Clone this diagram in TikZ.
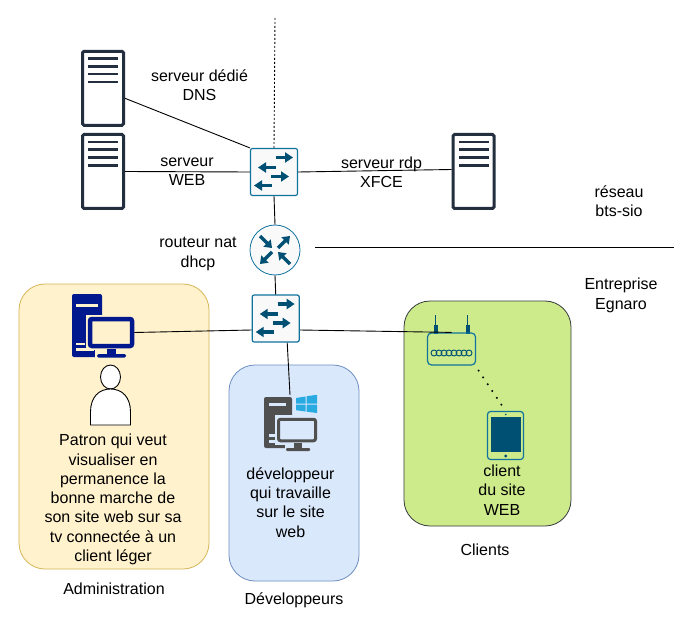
\documentclass[tikz,border=0pt]{standalone}
\usepackage{fontspec}
\setmainfont{Liberation Sans}
\usetikzlibrary{arrows.meta,shapes.geometric}
\definecolor{srvcol}{HTML}{232F3E}
\definecolor{netcol}{HTML}{005073}
\definecolor{netedge}{HTML}{10739E}
\definecolor{netfill}{HTML}{F9F9F9}
\definecolor{yelfill}{HTML}{FFF2CC}
\definecolor{yeledge}{HTML}{D6B656}
\definecolor{blufill}{HTML}{DAE8FC}
\definecolor{bluedge}{HTML}{6C8EBF}
\definecolor{grnfill}{HTML}{CDEB8B}
\definecolor{grnedge}{HTML}{36393D}
\definecolor{admcol}{HTML}{00188D}
\definecolor{devcol}{HTML}{505050}
\definecolor{wincol}{HTML}{29ABE2}
\tikzset{
  x=1pt,y=-1pt,
  lbl/.style={align=center,inner sep=0pt,font=\fontsize{16}{19.3}\selectfont,text=black},
  zone/.style={rounded corners=26pt,line width=0.8pt,inner sep=0pt},
  serverbox/.style={draw=srvcol,line width=3pt,rounded corners=1.5pt,fill=white,minimum width=41pt,minimum height=74pt,inner sep=0pt},
  switchbox/.style={draw=netedge,line width=1.2pt,rounded corners=2pt,fill=netfill,minimum width=47pt,minimum height=47pt,inner sep=0pt},
  routerbox/.style={circle,draw=netedge,line width=0.8pt,fill=netfill,minimum size=50pt,inner sep=0pt},
  netarrow/.style={netcol,line width=3.4pt,-{Triangle[length=8pt,width=10pt]}},
  link/.style={draw=black,line width=0.9pt},
  serverbars/.pic={
    \foreach \yy in {9,16.7,24.3,32.3}
      \fill[srvcol] (-15,\yy-38.5-1.3) rectangle (15,\yy-38.5+1.3);
  },
  switcharrows/.pic={
    \draw[netarrow] (2,-14.5) -- (19,-14.5);
    \draw[netarrow] (2,-4.5) -- (-16,-4.5);
    \draw[netarrow] (-3,4.5) -- (15,4.5);
    \draw[netarrow] (-2,13.5) -- (-20,13.5);
  }
}
\begin{document}
\begin{tikzpicture}
\useasboundingbox (0,0) rectangle (690,620);
\fill[white] (0,0) rectangle (690,620);

% zones
\draw[zone,fill=yelfill,draw=yeledge] (19,284) rectangle (209,569);
\draw[zone,fill=blufill,draw=bluedge] (229,365) rectangle (359,581);
\draw[zone,fill=grnfill,draw=grnedge] (404,301) rectangle (571,526);

% network devices
\node[serverbox] (srvdns) at (103,88.3) {};
\pic at (srvdns) {serverbars};
\node[serverbox] (srvweb) at (103,171.5) {};
\pic at (srvweb) {serverbars};
\node[serverbox] (srvrdp) at (473.5,171.5) {};
\pic at (srvrdp) {serverbars};

\node[switchbox] (sw1) at (274,172) {};
\node[routerbox] (rtr) at (275,250) {};
\node[switchbox] (sw2) at (275.7,318.5) {};

\coordinate (topend) at (275,18);
\coordinate (sepa) at (315,247);
\coordinate (sepb) at (674,247);

% admin computer
\fill[admcol,rounded corners=2pt] (72,294) rectangle (102,357);
\fill[yelfill] (85.5,315) rectangle (137,350);
\fill[yelfill] (95,345) rectangle (137,358);
\fill[yelfill] (76,303.5) rectangle (98,306.5);
\fill[yelfill] (76,342.5) rectangle (85,345);
\fill[yelfill] (76,348) rectangle (94,350.5);
\node[draw=admcol,line width=4.5pt,rounded corners=2pt,fill=yelfill,minimum width=42pt,minimum height=27pt,inner sep=0pt] (adminpc) at (111,332.5) {};
\fill[admcol] (107,349) rectangle (116,354);
\fill[admcol,rounded corners=1.5pt] (97,354) rectangle (126,357.5);

% person
\node[ellipse,draw=black,fill=white,line width=0.9pt,minimum width=20pt,minimum height=24pt,inner sep=0pt] (head) at (110.5,377) {};
\draw[fill=white,line width=0.9pt] (90.5,425) -- (90.5,412) .. controls (90.5,397) and (99,389) .. (110.5,389)
  .. controls (122,389) and (130.5,397) .. (130.5,412) -- (130.5,425) -- cycle;

% developer computer
\fill[devcol,rounded corners=2pt] (264,397) rectangle (292,448);
\fill[blufill] (275,415) rectangle (320,445);
\fill[blufill] (285,440) rectangle (320,452);
\fill[blufill] (269,403) rectangle (286,405.5);
\fill[blufill] (269,434) rectangle (275,436.5);
\fill[blufill] (269,440) rectangle (283,442.5);
\coordinate (devtop) at (290,395);
\node[draw=devcol,line width=3pt,rounded corners=2pt,fill=blufill,minimum width=37pt,minimum height=21.5pt,inner sep=0pt] (devpc) at (297,430) {};
\fill[devcol] (294,443) rectangle (302,448);
\fill[devcol,rounded corners=1pt] (286,448) rectangle (310,451);
\fill[wincol] (296,398) -- (305.5,396.5) -- (305.5,403.7) -- (296,403.7) -- cycle;
\fill[wincol] (306.5,396.2) -- (317,394.8) -- (317,403.7) -- (306.5,403.7) -- cycle;
\fill[wincol] (296,404.7) -- (305.5,404.7) -- (305.5,411.5) -- (296,410.2) -- cycle;
\fill[wincol] (306.5,404.7) -- (317,404.7) -- (317,413) -- (306.5,411.7) -- cycle;

% wifi router
\fill[netcol] (433.5,325) rectangle (437.5,334);
\fill[netcol] (465.5,325) rectangle (469.5,334);
\fill[netcol] (434.6,315) rectangle (436.4,326);
\fill[netcol] (466.6,315) rectangle (468.4,326);
\node[draw=netedge,line width=1.2pt,rounded corners=4pt,minimum width=48pt,minimum height=32pt,inner sep=0pt] (wifi) at (451.5,349) {};
\foreach \xx in {434,439,444,449,454,459,464,469}
  \draw[netcol,line width=0.9pt] (\xx,353) circle[radius=3];

% tablet
\node[draw=netedge,line width=1.2pt,rounded corners=3pt,minimum width=36pt,minimum height=48pt,inner sep=0pt] (tablet) at (505.5,435.5) {};
\fill[netcol] (490.5,417) rectangle (521,451.5);
\fill[netcol] (505.7,456) circle[radius=1.7];
\fill[netcol] (505.7,414.5) circle[radius=0.8];

% arrows in devices
\pic at (sw1) {switcharrows};
\pic at (sw2) {switcharrows};
\draw[netcol,line width=3.2pt,-{Triangle[length=7pt,width=10pt]}] (rtr.center) ++(-15,-14) -- ++(12,12);
\draw[netcol,line width=3.2pt,-{Triangle[length=7pt,width=10pt]}] (rtr.center) ++(15,14) -- ++(-12,-12);
\draw[netcol,line width=3.2pt,-{Triangle[length=7pt,width=10pt]}] (rtr.center) ++(3,-2) -- ++(12,-12);
\draw[netcol,line width=3.2pt,-{Triangle[length=7pt,width=10pt]}] (rtr.center) ++(-3,2) -- ++(-12,12);

% connectors
\draw[link] ([yshift=-10pt]srvdns.east) -- (sw1.north west);
\draw[link] (srvweb.east) -- (sw1.west);
\draw[link] (sw1.east) -- ([yshift=2pt]srvrdp.west);
\draw[link,dash pattern=on 2pt off 2pt] (topend) -- (sw1.north);
\draw[link] (sw1.south) -- (rtr.north);
\draw[link] (rtr.south) -- (sw2.north);
\draw[link] (sepa) -- (sepb);
\draw[link] (adminpc.east) -- ([yshift=-11.5pt]sw2.west);
\draw[link] ([yshift=-11.5pt]sw2.east) -- (wifi.north);
\draw[link] ([xshift=11.5pt]sw2.south) -- (devtop);
\draw[line width=2.2pt,line cap=round,dash pattern=on 0pt off 8.2pt] ([xshift=2.5pt,yshift=-5pt]wifi.south east) -- (tablet.north);

% labels
\node[lbl] (tdns) at (199.5,85.5) {serveur dédié\\DNS};
\node[lbl] (tweb) at (187,172) {serveur\\WEB};
\node[lbl] (trdp) at (381.5,172) {serveur rdp\\XFCE};
\node[lbl] (trtr) at (198,254) {routeur nat\\dhcp};
\node[lbl] (tres) at (619,201) {réseau\\bts-sio};
\node[lbl] (tent) at (621,295.5) {Entreprise\\Egnaro};
\node[lbl] (tpat) at (113,499.5) {Patron qui veut\\visualiser en\\permanence la\\bonne marche de\\son site web sur sa\\tv connectée à un\\client léger};
\node[lbl] (tdev) at (290.5,502.5) {développeur\\qui travaille\\sur le site\\web};
\node[lbl] (tcli) at (502,490) {client\\du site\\WEB};
\node[lbl] (zcli) at (485,550) {Clients};
\node[lbl] (zadm) at (114,589) {Administration};
\node[lbl] (zdev) at (294,600) {Développeurs};
\end{tikzpicture}
\end{document}
